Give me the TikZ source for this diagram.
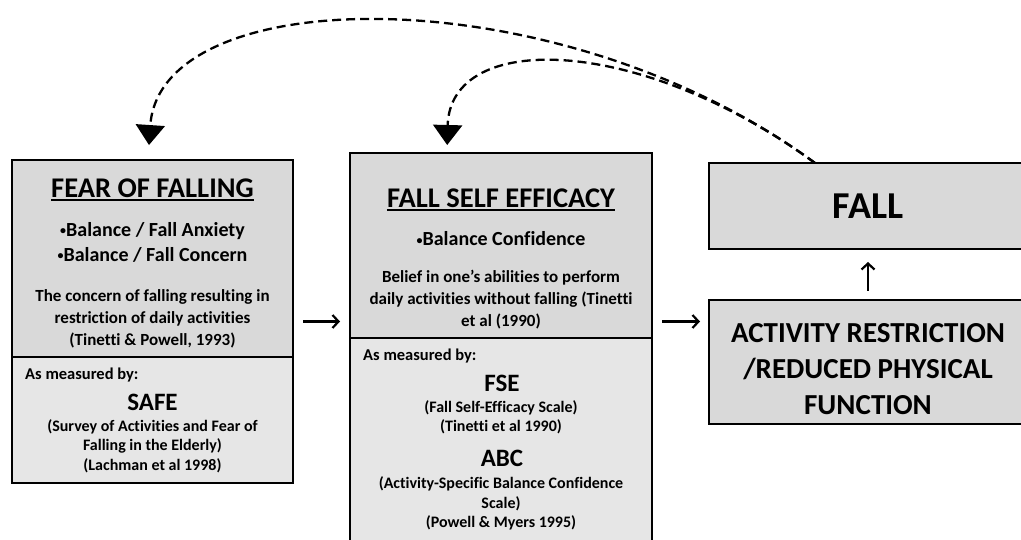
\documentclass[tikz,border=0pt]{standalone}
\usepackage{fontspec}
\setmainfont{Carlito}[Ligatures=NoCommon]
\usetikzlibrary{arrows.meta,positioning,calc}
\definecolor{TopGray}{HTML}{D9D9D9}
\definecolor{LowGray}{HTML}{E6E6E6}
\newcommand{\fsz}[2]{\fontsize{#1}{#2}\selectfont\bfseries}
\newcommand{\dotmark}{{\fontsize{12}{12}\selectfont\raisebox{0.15em}{•}}}

\begin{document}
\begin{tikzpicture}[x=1pt, y=-1pt,
  panel/.style={draw=black, line width=1.6pt, inner sep=0pt, outer sep=0pt},
  txt/.style={inner sep=0pt, align=center},
  head/.style={txt, font=\fsz{28.5}{32}},
  bullet/.style={txt, font=\fsz{20}{25}},
  desc/.style={txt, font=\fsz{17}{22}},
  meas/.style={txt, anchor=west, font=\fsz{16.5}{18}},
  tool/.style={txt, font=\fsz{25}{28}},
  small/.style={txt, font=\fsz{16}{19.3}},
  big/.style={txt, font=\fsz{29}{36}},
  arrow/.style={-{Straight Barb[length=6pt, width=13pt, line width=2.2pt]}, line width=2.2pt},
  back/.style={-{Triangle[length=20pt, width=29pt]}, line width=2.3pt, dash pattern=on 9pt off 5pt}
]
\useasboundingbox (0,0) rectangle (1021,540);
\clip (0,0) rectangle (1021,540);

% boxes
\node[panel, fill=LowGray, minimum width=281pt, minimum height=323pt] (fear) at (152.5,321.5) {};
\node[panel, fill=TopGray, minimum width=281pt, minimum height=197pt, anchor=north] (feartop) at (fear.north) {};
\node[panel, fill=LowGray, minimum width=302pt, minimum height=392pt] (eff) at (501,349) {};
\node[panel, fill=TopGray, minimum width=302pt, minimum height=185pt, anchor=north] (efftop) at (eff.north) {};
\node[panel, fill=TopGray, minimum width=318pt, minimum height=86pt] (fall) at (868,206) {};
\node[panel, fill=TopGray, minimum width=318pt, minimum height=124pt] (act) at (868,362) {};

% fear of falling
\node[head] (feartitle) at (152.5,188) {FEAR OF FALLING};
\draw[line width=1.6pt] ([yshift=-3pt]feartitle.base west) -- ([yshift=-3pt]feartitle.base east);
\node[bullet] (fearbul) at (152.5,242.5) {\dotmark Balance / Fall Anxiety\\\dotmark Balance / Fall Concern};
\node[desc] (feardesc) at (152.5,318.5) {The concern of falling resulting in\\restriction of daily activities\\(Tinetti \& Powell, 1993)};
\node[meas] (fearmeas) at (25,375) {As measured by:};
\node[tool] (safe) at (152.5,402) {SAFE};
\node[small] (safetxt) at (152.5,446) {(Survey of Activities and Fear of\\Falling in the Elderly)\\(Lachman et al 1998)};

% fall self efficacy
\node[head] (efftitle) at (501,198) {FALL SELF EFFICACY};
\draw[line width=1.6pt] ([yshift=-3pt]efftitle.base west) -- ([yshift=-3pt]efftitle.base east);
\node[bullet] (effbul) at (501,239) {\dotmark Balance Confidence};
\node[desc] (effdesc) at (501,299.5) {Belief in one’s abilities to perform\\daily activities without falling (Tinetti\\et al (1990)};
\node[meas] (effmeas) at (363,356) {As measured by:};
\node[tool] (fse) at (502,383) {FSE};
\node[small] (fsetxt) at (501,417.5) {(Fall Self-Efficacy Scale)\\(Tinetti et al 1990)};
\node[tool] (abc) at (502,458) {ABC};
\node[small] (abctxt) at (501,503.5) {(Activity-Specific Balance Confidence\\Scale)\\(Powell \& Myers 1995)};

% fall and restriction
\node[txt, font=\fsz{38}{40}] (falltxt) at (868,206) {FALL};
\node[big] (acttxt) at (868,369) {ACTIVITY RESTRICTION\\/REDUCED PHYSICAL\\FUNCTION};

% arrows
\draw[arrow, shorten <=10pt, shorten >=10pt] (fear.east) -- (fear.east -| eff.west);
\draw[arrow, shorten <=10pt, shorten >=9pt] (fear.east -| eff.east) -- (fear.east -| act.west);
\draw[arrow, shorten <=9pt, shorten >=13pt] (act.north) -- (fall.south);

% feedback from fall
\coordinate (fb) at ([xshift=-53pt]fall.north);
\coordinate (fearin) at ([xshift=-4.5pt]fear.north);
\coordinate (effin) at ([xshift=-54pt]eff.north);
\draw[back, shorten >=15pt] (fb) .. controls (560,-25) and (160,-20) .. (fearin);
\draw[back, shorten >=8pt] (fb) .. controls (640,35) and (450,30) .. (effin);
\end{tikzpicture}
\end{document}
